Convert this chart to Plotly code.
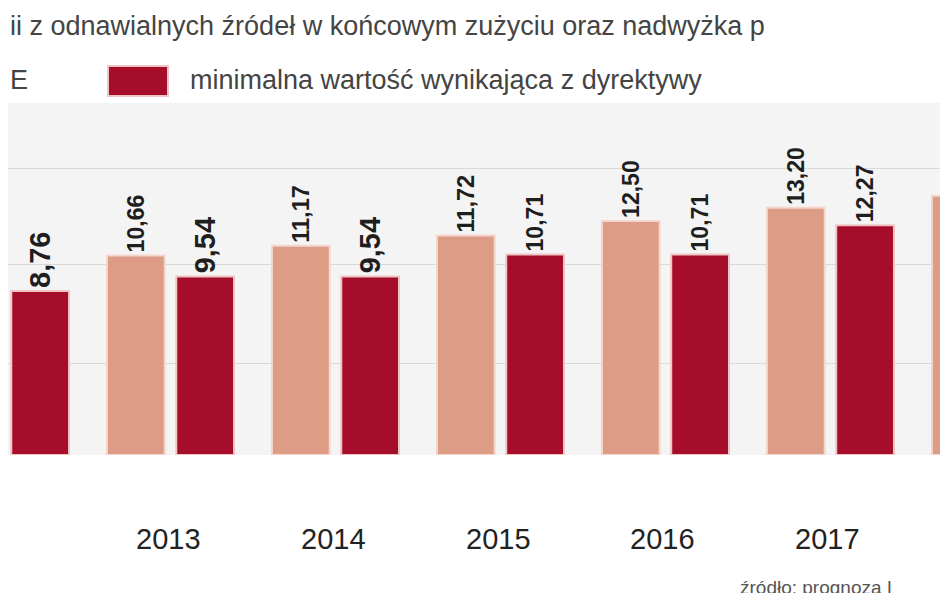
import plotly.graph_objects as go

years = [2012, 2013, 2014, 2015, 2016, 2017, 2018]
actual = [10.50, 10.66, 11.17, 11.72, 12.50, 13.20, 13.85]
minimum = [8.76, 9.54, 9.54, 10.71, 10.71, 12.27, 12.27]

def fmt(v):
    return f"<b>{v:.2f}</b>".replace(".", ",")

lab_font = dict(family="Liberation Sans, Arial", size=29, color="#1e1e1e")

fig = go.Figure()
fig.add_bar(x=years, y=actual, width=0.35, offset=-0.37,
            marker=dict(color="#dc9c86", line=dict(color="#f4d6cc", width=2)),
            text=[fmt(v) for v in actual], textposition="outside", textangle=-90,
            textfont=lab_font, cliponaxis=False, name="UE")
fig.add_bar(x=years, y=minimum, width=0.35, offset=0.05,
            marker=dict(color="#a50d2a", line=dict(color="#f0c4c4", width=2)),
            text=[fmt(v) for v in minimum], textposition="outside", textangle=-90,
            textfont=lab_font, cliponaxis=False, name="min")

fig.update_layout(
    width=948, height=593, showlegend=False, barmode="overlay",
    margin=dict(l=0, r=0, t=95, b=146),
    paper_bgcolor="white", plot_bgcolor="#f4f4f4",
    font=dict(family="Liberation Sans, Arial", color="#333"),
    xaxis=dict(range=[2012.03, 2017.776], showticklabels=False, ticks="", showgrid=False,
               zeroline=False),
    yaxis=dict(range=[0, 18.8], tickvals=[4.9, 10.2, 15.3], showticklabels=False,
               gridcolor="#d9d9d9", zeroline=False),
    uniformtext=dict(mode=False),
)
for yr in years:
    fig.add_annotation(x=yr, xref="x", yref="paper", y=-0.24, yanchor="middle",
                       text=str(yr), showarrow=False, font=dict(size=29, color="#222"))
fig.add_annotation(xref="paper", yref="paper", x=0, y=1.22, xanchor="left", yanchor="middle",
                   text="ii z odnawialnych źródeł w końcowym zużyciu oraz nadwyżka p",
                   showarrow=False, font=dict(size=27, color="#444"))
fig.add_annotation(xref="paper", yref="paper", x=0, y=1.065, xanchor="left", yanchor="middle",
                   text="E", showarrow=False, font=dict(size=27, color="#444"))
fig.add_shape(type="rect", xref="paper", yref="paper", x0=100/948, x1=160/948,
              y0=1.02, y1=1.105,
              fillcolor="#a50d2a", line=dict(color="#f0c4c4", width=2))
fig.add_annotation(xref="paper", yref="paper", x=180/948, y=1.065, xanchor="left", yanchor="middle",
                   text="minimalna wartość wynikająca z dyrektywy", showarrow=False,
                   font=dict(size=27, color="#444"))
fig.add_annotation(xref="paper", yref="paper", x=730/948, y=-0.375, xanchor="left", yanchor="middle",
                   text="źródło: prognoza I", showarrow=False, font=dict(size=19, color="#555"))

fig.write_html("out.html")
